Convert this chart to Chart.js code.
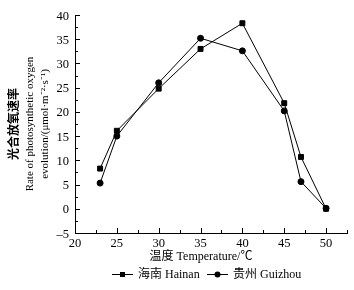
<!DOCTYPE html>
<html><head><meta charset="utf-8">
<script src="https://cdn.jsdelivr.net/npm/chart.js@4/dist/chart.umd.min.js"></script>
<style>html,body{margin:0;padding:0;background:#fff}#wrap{width:354px;height:290px}</style>
</head><body><div id="wrap"><canvas id="c" width="354" height="290"></canvas></div>
<script>
const temperatures = [23, 25, 30, 35, 40, 45, 47, 50];
const hainan = [8.3, 16.1, 24.8, 33.0, 38.3, 21.8, 10.7, 0.0];
const guizhou = [5.3, 15.0, 26.0, 35.2, 32.6, 20.2, 5.6, 0.1];
const xTicks = [20, 25, 30, 35, 40, 45, 50];
const yTicks = [-5, 0, 5, 10, 15, 20, 25, 30, 35, 40];
const seriesNames = ['海南 Hainan', '贵州 Guizhou'];
const xTitle = '温度 Temperature/℃';
const yTitleLines = ['光合放氧速率', 'Rate of photosynthetic oxygen', 'evolution/(μmol·m\u207B\u00B2·s\u207B\u00B9)'];

const FONT = '"Liberation Serif", "Noto Sans CJK SC", serif';

const deco = {
  id: 'deco',
  afterDraw(chart) {
    const ctx = chart.ctx, x = chart.scales.x, y = chart.scales.y, a = chart.chartArea;
    ctx.save();
    ctx.strokeStyle = '#000'; ctx.lineWidth = 1;
    for (let v = 20; v <= 52.5; v += 2.5) {
      const px = Math.round(x.getPixelForValue(v)) + 0.5;
      const len = (v % 5 === 0) ? 5 : 3;
      ctx.beginPath(); ctx.moveTo(px, a.bottom); ctx.lineTo(px, a.bottom - len); ctx.stroke();
    }
    for (let v = -5; v <= 40; v += 2.5) {
      const py = Math.round(y.getPixelForValue(v)) + 0.5;
      const len = (v % 5 === 0) ? 5 : 3;
      ctx.beginPath(); ctx.moveTo(a.left, py); ctx.lineTo(a.left + len, py); ctx.stroke();
    }
    ctx.fillStyle = '#000';
    ctx.font = '12.5px ' + FONT;
    ctx.textAlign = 'right'; ctx.textBaseline = 'alphabetic';
    yTicks.forEach(v => {
      const label = v < 0 ? '\u2013' + Math.abs(v) : String(v);
      ctx.fillText(label, a.left - 6, y.getPixelForValue(v) + 4.5);
    });
    ctx.textAlign = 'center'; ctx.textBaseline = 'top';
    xTicks.forEach(v => ctx.fillText(String(v), x.getPixelForValue(v), a.bottom + 4));
    ctx.font = '12px ' + FONT;
    ctx.textAlign = 'center'; ctx.textBaseline = 'middle';
    ctx.fillText(xTitle, 201, 257);
    const cy = (a.top + a.bottom) / 2;
    const xs = [15, 30, 45];
    yTitleLines.forEach((t, i) => {
      ctx.save();
      ctx.translate(xs[i], cy);
      ctx.rotate(-Math.PI / 2);
      ctx.font = (i === 0 ? 'bold 12px ' : '11px ') + FONT;
      ctx.fillText(t, 0, 0);
      ctx.restore();
    });
    const ly = 274.5;
    const items = [{x0: 112, name: seriesNames[0], style: 'rect'}, {x0: 207, name: seriesNames[1], style: 'circle'}];
    items.forEach(it => {
      ctx.beginPath(); ctx.moveTo(it.x0, ly); ctx.lineTo(it.x0 + 21, ly); ctx.stroke();
      const mx = it.x0 + 10.5;
      ctx.beginPath();
      if (it.style === 'rect') ctx.rect(mx - 2.5, ly - 2.5, 5, 5);
      else ctx.arc(mx, ly, 3, 0, Math.PI * 2);
      ctx.fill();
      ctx.textAlign = 'left';
      ctx.font = '12px ' + FONT;
      ctx.fillText(it.name, it.x0 + 26, ly);
    });
    ctx.restore();
  }
};

new Chart(document.getElementById('c'), {
  type: 'line',
  data: {
    datasets: [
      {label: seriesNames[0], data: temperatures.map((t, i) => ({x: t, y: hainan[i]})),
       borderColor: '#000', backgroundColor: '#000', borderWidth: 1, pointStyle: 'rect', pointRadius: 3.5, tension: 0},
      {label: seriesNames[1], data: temperatures.map((t, i) => ({x: t, y: guizhou[i]})),
       borderColor: '#000', backgroundColor: '#000', borderWidth: 1, pointStyle: 'circle', pointRadius: 3, tension: 0}
    ]
  },
  options: {
    responsive: false, animation: false,
    layout: {padding: {left: 0, right: 7, top: 15, bottom: 0}},
    plugins: {legend: {display: false}, tooltip: {enabled: false}},
    scales: {
      x: {
        type: 'linear', min: 20, max: 52.5,
        afterBuildTicks: s => { s.ticks = xTicks.map(v => ({value: v})); },
        afterFit: s => { s.height = 57; },
        grid: {display: false, tickLength: 0}, border: {display: true, color: '#000', width: 1},
        ticks: {display: false}
      },
      y: {
        type: 'linear', min: -5, max: 40,
        afterBuildTicks: s => { s.ticks = yTicks.map(v => ({value: v})); },
        afterFit: s => { s.width = 75; },
        grid: {display: false, tickLength: 0}, border: {display: true, color: '#000', width: 1},
        ticks: {display: false}
      }
    }
  },
  plugins: [deco]
});
</script></body></html>
